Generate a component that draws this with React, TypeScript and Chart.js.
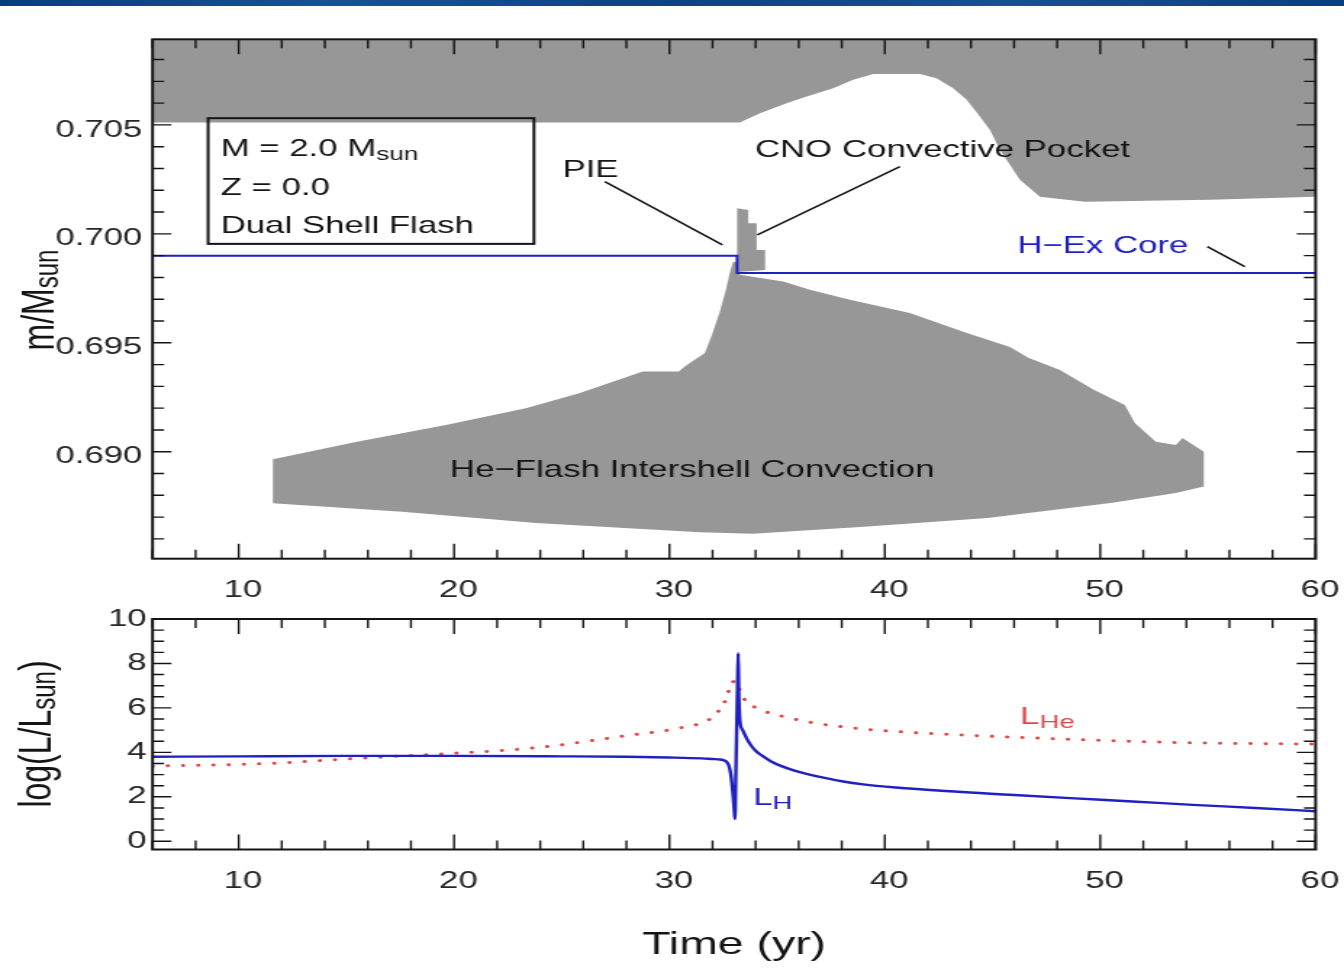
import React, { useEffect, useRef } from 'react';
import { Chart, registerables } from 'chart.js';

Chart.register(...registerables);

// ---------------- data ----------------
const xTickLabels = [10, 20, 30, 40, 50, 60];
const massTickLabels = [0.69, 0.695, 0.7, 0.705];
const lumTickLabels = [0, 2, 4, 6, 8, 10];

// lower edge of the convective envelope (grey region filled to the top)
const envelopeTime = [6, 33.27, 34.2, 35.44, 36.37, 37.6, 38.53, 39.46, 41.63, 42.4, 43.17, 43.8, 44.42, 44.88, 45.35, 46.27, 47.2, 49.29, 55.09, 60];
const envelopeMass = [0.70511, 0.70511, 0.70554, 0.706, 0.7063, 0.70668, 0.70707, 0.70734, 0.70734, 0.70714, 0.70668, 0.70615, 0.70538, 0.70477, 0.70385, 0.70248, 0.7017, 0.70147, 0.70156, 0.7017];

// He-flash intershell convection zone
const intershellUpperTime = [11.59, 15.49, 19.62, 23.38, 25.84, 28.76, 30.43, 30.71, 31.64, 31.97, 32.34, 32.62, 32.81, 32.95, 33.13, 33.27, 35.28, 36.52, 38.38, 41.16, 43.81, 45.81, 46.66, 48.13, 49.7, 51.14, 51.61, 52.58, 53.51, 53.82, 54.81];
const intershellUpperMass = [0.68966, 0.69046, 0.69123, 0.69201, 0.6927, 0.69368, 0.69368, 0.69391, 0.69453, 0.69536, 0.69642, 0.69743, 0.69825, 0.69871, 0.69871, 0.69812, 0.69781, 0.69743, 0.69697, 0.69637, 0.69545, 0.69481, 0.69431, 0.69375, 0.69284, 0.69215, 0.69132, 0.69046, 0.69031, 0.69063, 0.69];
const intershellLowerTime = [11.59, 17.58, 23.8, 31.42, 33.87, 39.03, 44.76, 50.48, 53.51, 54.81];
const intershellLowerMass = [0.68764, 0.68725, 0.68673, 0.6863, 0.68623, 0.68656, 0.68696, 0.68765, 0.68811, 0.6884];

// CNO convective pocket
const pocketTime = [33.14, 33.14, 33.66, 33.66, 34.05, 34.05, 34.44, 34.44];
const pocketMass = [0.69825, 0.70118, 0.7011, 0.70049, 0.70049, 0.69926, 0.69926, 0.69834];

// H-exhausted core mass
const hexCoreTime = [6, 33.14, 33.14, 60];
const hexCoreMass = [0.699, 0.699, 0.6982, 0.6982];

// luminosities (log L/Lsun)
const lhTime = [6, 10, 15, 20, 25, 28, 30, 31.5, 32.0, 32.34, 32.5, 32.65, 32.75, 32.84, 32.9, 32.96, 33.0, 33.04, 33.08, 33.12, 33.16, 33.19, 33.22, 33.27, 33.4, 33.6, 33.8, 34.0, 34.3, 34.7, 35.2, 35.8, 36.5, 37.2, 38.0, 39.0, 40.5, 42.8, 45.8, 48.6, 51.5, 54.3, 57.2, 60];
const lhValue = [3.8, 3.82, 3.84, 3.84, 3.82, 3.8, 3.77, 3.73, 3.7, 3.68, 3.65, 3.58, 3.42, 3.06, 2.6, 2.0, 1.5, 1.0, 3.0, 5.0, 7.0, 8.46, 6.6, 5.45, 5.0, 4.6, 4.3, 4.07, 3.85, 3.6, 3.38, 3.18, 3.0, 2.85, 2.7, 2.56, 2.42, 2.26, 2.09, 1.94, 1.79, 1.64, 1.5, 1.35];
const lheTime = [6, 11.35, 15.5, 19.6, 23.8, 27.9, 30.6, 31.8, 32.26, 32.57, 32.77, 32.96, 33.1, 33.3, 33.6, 34.2, 34.8, 35.47, 36.2, 39.03, 42.83, 48.57, 54.3, 60];
const lheValue = [3.38, 3.5, 3.73, 3.94, 4.21, 4.74, 5.12, 5.45, 5.83, 6.28, 6.8, 7.18, 7.2, 6.7, 6.25, 5.95, 5.72, 5.58, 5.41, 5.05, 4.82, 4.59, 4.43, 4.37];

// ---------------- layout / style ----------------
const PAGE_W = 1344;
const STRETCH = 1.45; // the figure is horizontally stretched
const DRAW_W = Math.round(PAGE_W / STRETCH);
const TOP_H = 600;
const BOT_H = 369;
const PLOT_LEFT = 105.2;
const PLOT_RIGHT_PAD = DRAW_W - 907.4;
const FONT = "'Liberation Sans', Arial, Helvetica, sans-serif";
const GRAY = '#979797';
const INK = '#141414';
const TICK_TEXT = '#262626';
const BLUE = '#2020c0';
const RED = '#e04848';

const pts = (xs: number[], ys: number[]) => xs.map((x, i) => ({ x, y: ys[i] }));

function drawParts(ctx: any, parts: Array<[string, number, number]>, x: number, y: number, color: string, center = false) {
  ctx.fillStyle = color;
  ctx.textAlign = 'left';
  ctx.textBaseline = 'alphabetic';
  const widths = parts.map(([t, s]) => {
    ctx.font = `${s}px ${FONT}`;
    return ctx.measureText(t).width;
  });
  const total = widths.reduce((a, b) => a + b, 0);
  let cx = center ? x - total / 2 : x;
  parts.forEach(([t, s, dy], i) => {
    ctx.font = `${s}px ${FONT}`;
    ctx.fillText(t, cx, y + dy);
    cx += widths[i];
  });
}

const frameTicksPlugin = {
  id: 'frameTicks',
  afterDatasetsDraw(chart: any, _args: any, opts: any) {
    const { ctx, chartArea: a } = chart;
    const xs = chart.scales.x;
    const ys = chart.scales.y;
    ctx.save();
    ctx.strokeStyle = INK;
    ctx.lineWidth = 1.4;
    ctx.beginPath();
    const major = (v: number, list: number[], tol: number) => list.some((m) => Math.abs(m - v) < tol);
    const nx0 = Math.ceil(xs.min / opts.xMinor - 1e-6);
    const nx1 = Math.floor(xs.max / opts.xMinor + 1e-6);
    for (let n = nx0; n <= nx1; n++) {
      const v = n * opts.xMinor;
      const len = major(v, opts.xMajor, opts.xMinor / 100) ? 15 : 9;
      const p = xs.getPixelForValue(v);
      ctx.moveTo(p, a.bottom);
      ctx.lineTo(p, a.bottom - len);
      ctx.moveTo(p, a.top);
      ctx.lineTo(p, a.top + len);
    }
    const ny0 = Math.ceil(ys.min / opts.yMinor - 1e-6);
    const ny1 = Math.floor(ys.max / opts.yMinor + 1e-6);
    for (let n = ny0; n <= ny1; n++) {
      const v = n * opts.yMinor;
      const len = major(v, opts.yMajor, opts.yMinor / 100) ? 13 : 8;
      const p = ys.getPixelForValue(v);
      ctx.moveTo(a.left, p);
      ctx.lineTo(a.left + len, p);
      ctx.moveTo(a.right, p);
      ctx.lineTo(a.right - len, p);
    }
    ctx.stroke();
    ctx.lineWidth = 2;
    ctx.strokeRect(a.left, a.top, a.right - a.left, a.bottom - a.top);
    ctx.restore();
  },
};

const topAnnotations = {
  id: 'topAnnotations',
  afterDraw(chart: any) {
    const { ctx } = chart;
    const X = (t: number) => chart.scales.x.getPixelForValue(t);
    const Y = (m: number) => chart.scales.y.getPixelForValue(m);
    ctx.save();
    // info box
    ctx.strokeStyle = INK;
    ctx.lineWidth = 2;
    ctx.strokeRect(X(8.58), Y(0.70531), X(23.71) - X(8.58), Y(0.69954) - Y(0.70531));
    drawParts(ctx, [['M = 2.0 M', 24, 0], ['sun', 18, 4]], X(9.16), Y(0.70358), INK);
    drawParts(ctx, [['Z = 0.0', 24, 0]], X(9.16), Y(0.70179), INK);
    drawParts(ctx, [['Dual Shell Flash', 24, 0]], X(9.16), Y(0.70006), INK);
    // labels
    drawParts(ctx, [['PIE', 24, 0]], X(25.03), Y(0.7026), INK);
    drawParts(ctx, [['CNO Convective Pocket', 24, 0]], X(33.97), Y(0.70354), INK);
    drawParts(ctx, [['H\u2212Ex Core', 24, 0]], X(46.15), Y(0.69914), BLUE);
    drawParts(ctx, [['He\u2212Flash Intershell Convection', 24, 0]], X(19.81), Y(0.68886), INK);
    // leader lines
    ctx.lineWidth = 1.6;
    ctx.beginPath();
    ctx.moveTo(X(27.0), Y(0.7024));
    ctx.lineTo(X(32.46), Y(0.69949));
    ctx.moveTo(X(40.7), Y(0.70309));
    ctx.lineTo(X(34.08), Y(0.69995));
    ctx.moveTo(X(54.97), Y(0.69941));
    ctx.lineTo(X(56.71), Y(0.6985));
    ctx.stroke();
    // y title
    ctx.translate(37, 300);
    ctx.rotate(-Math.PI / 2);
    drawParts(ctx, [['m/M', 32, 0], ['sun', 24, 3]], 0, 0, INK, true);
    ctx.restore();
  },
};

const bottomAnnotations = {
  id: 'bottomAnnotations',
  afterDraw(chart: any) {
    const { ctx } = chart;
    const X = (t: number) => chart.scales.x.getPixelForValue(t);
    const Y = (v: number) => chart.scales.y.getPixelForValue(v);
    ctx.save();
    drawParts(ctx, [['L', 24, 0], ['He', 19, 4]], X(46.28), Y(5.27), RED);
    drawParts(ctx, [['L', 24, 0], ['H', 19, 4]], X(33.89), Y(1.64), BLUE);
    ctx.translate(35.4, 134);
    ctx.rotate(-Math.PI / 2);
    drawParts(ctx, [['log(L/L', 32, 0], ['sun', 24, 3], [')', 32, 0]], 0, 0, INK, true);
    ctx.restore();
  },
};

const tickFont = { family: FONT, size: 24 };

function xScale(height: number, withTitle: boolean) {
  return {
    type: 'linear',
    position: 'bottom',
    min: 6,
    max: 60,
    afterFit: (s: any) => {
      s.height = height;
      s.paddingLeft = 0;
      s.paddingRight = 0;
    },
    afterBuildTicks: (s: any) => {
      s.ticks = xTickLabels.map((v) => ({ value: v }));
    },
    grid: { display: false, drawTicks: false },
    border: { display: false },
    ticks: {
      font: tickFont,
      color: TICK_TEXT,
      padding: 17,
      labelOffset: 3,
      maxRotation: 0,
      autoSkip: false,
      callback: (v: any) => String(v),
    },
    title: withTitle
      ? { display: true, text: 'Time (yr)', color: INK, font: { family: FONT, size: 32 }, padding: { top: 0, bottom: 5 } }
      : { display: false },
  };
}

function yScale(min: number, max: number, labels: number[], padding: number, labelOffset: number, digits: number) {
  return {
    type: 'linear',
    position: 'left',
    min,
    max,
    afterFit: (s: any) => {
      s.width = PLOT_LEFT;
      s.paddingTop = 0;
      s.paddingBottom = 0;
    },
    afterBuildTicks: (s: any) => {
      s.ticks = labels.map((v) => ({ value: v }));
    },
    grid: { display: false, drawTicks: false },
    border: { display: false },
    ticks: {
      font: tickFont,
      color: TICK_TEXT,
      padding,
      labelOffset,
      autoSkip: false,
      callback: (v: any) => Number(v).toFixed(digits),
    },
  };
}

export default function App() {
  const topRef = useRef<HTMLCanvasElement | null>(null);
  const botRef = useRef<HTMLCanvasElement | null>(null);

  useEffect(() => {
    const common = {
      animation: false,
      responsive: false,
      maintainAspectRatio: false,
      devicePixelRatio: 1,
      events: [],
    };

    const top = new Chart(topRef.current as HTMLCanvasElement, {
      type: 'line',
      data: {
        datasets: [
          {
            label: 'H-Ex Core',
            data: pts(hexCoreTime, hexCoreMass),
            borderColor: BLUE,
            borderWidth: 2,
            pointRadius: 0,
            fill: false,
            tension: 0,
          },
          {
            label: 'CNO Convective Pocket',
            data: pts(pocketTime, pocketMass),
            borderWidth: 0,
            backgroundColor: GRAY,
            pointRadius: 0,
            fill: 'shape',
            tension: 0,
          },
          {
            label: 'He-Flash Intershell Convection',
            data: pts(intershellUpperTime, intershellUpperMass).concat(pts(intershellLowerTime, intershellLowerMass).reverse()),
            borderWidth: 0,
            backgroundColor: GRAY,
            pointRadius: 0,
            fill: 'shape',
            tension: 0,
          },
          {
            label: 'Envelope',
            data: pts(envelopeTime, envelopeMass),
            borderWidth: 0,
            backgroundColor: GRAY,
            pointRadius: 0,
            fill: 'end',
            tension: 0,
          },
        ],
      },
      options: {
        ...common,
        layout: { padding: { top: 39.3, right: PLOT_RIGHT_PAD, bottom: 0, left: 0 } },
        plugins: {
          legend: { display: false },
          tooltip: { enabled: false },
          frameTicks: { xMinor: 2, xMajor: xTickLabels, yMinor: 0.001, yMajor: massTickLabels },
        },
        scales: {
          x: xScale(TOP_H - 558.7, false),
          y: yScale(0.68509, 0.70893, massTickLabels, 7, 5, 3),
        },
      } as any,
      plugins: [frameTicksPlugin, topAnnotations],
    } as any);

    const bottom = new Chart(botRef.current as HTMLCanvasElement, {
      type: 'line',
      data: {
        datasets: [
          {
            label: 'L_H',
            data: pts(lhTime, lhValue),
            borderColor: BLUE,
            borderWidth: 2.4,
            pointRadius: 0,
            fill: false,
            cubicInterpolationMode: 'monotone',
          },
          {
            label: 'L_He',
            data: pts(lheTime, lheValue),
            borderColor: RED,
            borderWidth: 3,
            borderDash: [0.1, 10.4],
            borderCapStyle: 'round',
            pointRadius: 0,
            fill: false,
            cubicInterpolationMode: 'monotone',
          },
        ],
      },
      options: {
        ...common,
        layout: { padding: { top: 19, right: PLOT_RIGHT_PAD, bottom: 0, left: 0 } },
        plugins: {
          legend: { display: false },
          tooltip: { enabled: false },
          frameTicks: { xMinor: 2, xMajor: xTickLabels, yMinor: 0.5, yMajor: lumTickLabels },
        },
        scales: {
          x: xScale(BOT_H - 249.5, true),
          y: yScale(-0.37, 10, lumTickLabels, 4, 0, 0),
        },
      } as any,
      plugins: [frameTicksPlugin, bottomAnnotations],
    } as any);

    return () => {
      top.destroy();
      bottom.destroy();
    };
  }, []);

  return (
    <div style={{ position: 'absolute', left: 0, top: 0, width: PAGE_W, height: 969, background: '#ffffff', overflow: 'hidden' }}>
      <div
        style={{
          position: 'absolute',
          left: 0,
          top: 0,
          width: PAGE_W,
          height: 6,
          background: 'linear-gradient(90deg, #0c3b80 0%, #1a5098 25%, #0f4088 50%, #1b4e96 75%, #0d3c84 100%)',
        }}
      />
      <canvas
        ref={topRef}
        width={DRAW_W}
        height={TOP_H}
        style={{ position: 'absolute', left: 0, top: 0, width: `${PAGE_W}px`, height: `${TOP_H}px` }}
      />
      <canvas
        ref={botRef}
        width={DRAW_W}
        height={BOT_H}
        style={{ position: 'absolute', left: 0, top: TOP_H, width: `${PAGE_W}px`, height: `${BOT_H}px` }}
      />
    </div>
  );
}
